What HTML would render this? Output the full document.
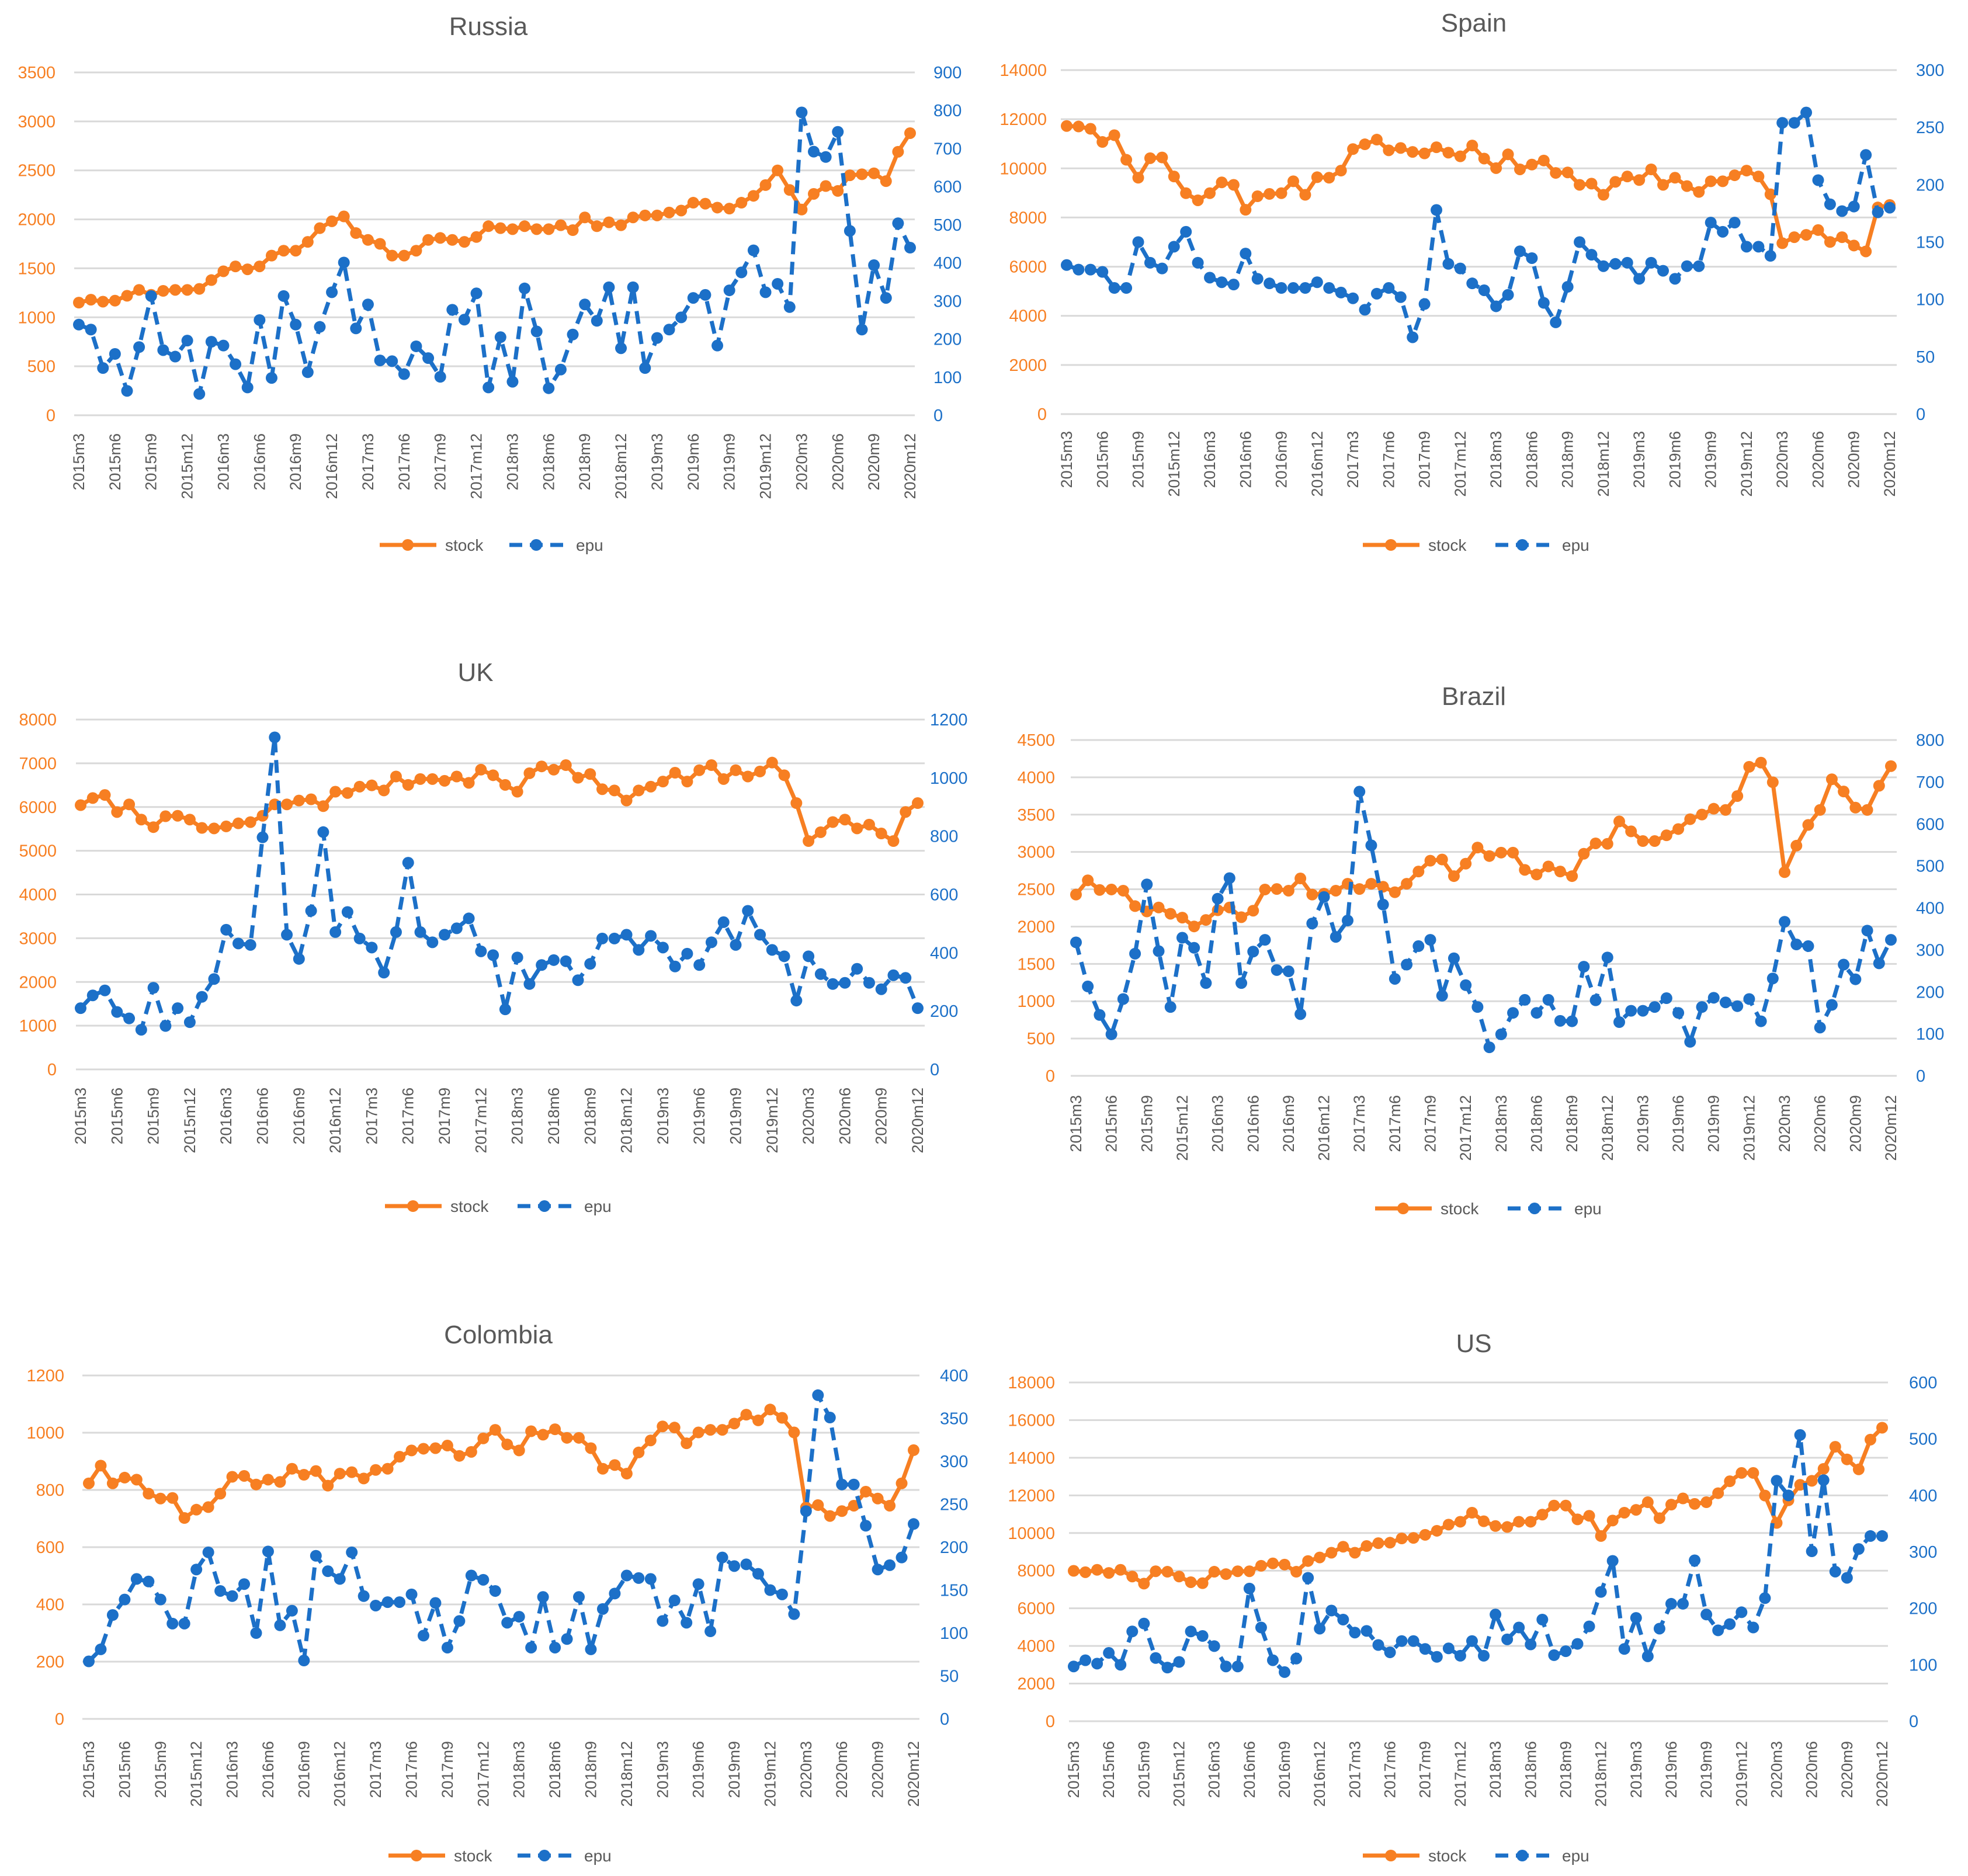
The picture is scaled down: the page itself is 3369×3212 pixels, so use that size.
<!DOCTYPE html>
<html><head><meta charset="utf-8"><title>Stock vs EPU</title>
<style>
html,body{margin:0;padding:0;background:#fff;}
svg{display:block;font-family:"Liberation Sans",Arial,sans-serif;}
</style></head>
<body>
<svg id="root" width="3369" height="3212" viewBox="0 0 3369 3212" xmlns="http://www.w3.org/2000/svg"></svg>
<script>
// ---- data ----
const years = [2015,2016,2017,2018,2019,2020];
const russiaStock = [1150,1180,1160,1170,1220,1280,1230,1270,1280,1280,1290,1380,1470,1520,1490,1520,1630,1680,1680,1770,1910,1980,2030,1860,1790,1750,1630,1630,1680,1790,1810,1790,1770,1820,1930,1910,1900,1930,1900,1900,1940,1890,2020,1930,1970,1940,2020,2040,2040,2070,2090,2170,2160,2120,2110,2170,2240,2350,2500,2300,2100,2260,2340,2290,2450,2460,2470,2390,2690,2880];
const russiaEpu = [238,225,124,161,64,179,313,171,154,196,56,193,183,134,73,250,98,313,238,113,232,323,401,228,291,144,142,108,181,150,101,277,251,320,73,205,88,333,220,71,120,212,291,248,336,176,336,124,203,225,257,308,316,183,328,375,433,323,345,284,795,692,678,744,484,225,394,308,504,440];
const spainStock = [11725,11705,11610,11075,11350,10350,9620,10415,10445,9670,8990,8700,8990,9430,9330,8315,8865,8960,8990,9475,8925,9640,9620,9910,10785,10980,11170,10735,10830,10670,10610,10860,10640,10490,10930,10400,10010,10570,9960,10155,10320,9815,9835,9330,9380,8925,9450,9670,9525,9960,9330,9620,9280,9040,9475,9475,9720,9910,9670,8945,6955,7200,7295,7490,7005,7200,6860,6620,8410,8510];
const spainEpu = [130,126,126,124,110,110,150,132,127,146,159,132,119,115,113,140,118,114,110,110,110,115,110,106,101,91,105,110,102,67,96,178,131,127,114,108,94,104,142,136,97,80,111,150,139,129,131,132,118,132,125,118,129,129,167,159,167,146,146,138,254,254,263,204,183,177,181,226,176,180];
const ukStock = [6043,6205,6275,5885,6060,5713,5540,5789,5800,5713,5522,5511,5557,5627,5655,5800,6060,6060,6148,6177,6020,6350,6321,6466,6495,6379,6698,6506,6640,6640,6599,6698,6553,6854,6727,6506,6350,6773,6929,6854,6958,6669,6755,6408,6379,6148,6379,6466,6582,6785,6582,6842,6958,6640,6842,6698,6813,7016,6727,6090,5222,5424,5656,5713,5511,5598,5395,5222,5887,6090];
const ukEpu = [210,254,271,197,175,136,280,149,210,162,249,310,479,432,427,796,1139,462,379,544,814,471,540,449,418,332,471,709,471,436,462,484,518,405,392,206,384,293,358,375,371,306,362,449,449,462,410,458,418,353,397,358,436,505,427,544,462,410,388,236,388,327,293,297,345,297,275,323,314,210];
const brazilStock = [2429,2620,2491,2497,2481,2274,2203,2256,2172,2120,2002,2089,2219,2256,2126,2213,2497,2503,2481,2645,2429,2441,2481,2574,2503,2574,2534,2460,2574,2738,2883,2899,2676,2843,3059,2945,2991,2991,2760,2698,2806,2738,2676,2976,3115,3109,3409,3276,3146,3146,3223,3307,3439,3501,3579,3563,3749,4141,4197,3934,2729,3084,3362,3563,3974,3810,3594,3563,3887,4150];
const brazilEpu = [318,213,145,99,183,291,456,297,164,329,305,221,422,471,221,296,324,252,249,147,363,426,331,370,677,549,408,231,265,309,324,191,280,216,164,68,99,150,181,150,181,131,130,260,180,282,128,155,155,164,185,150,81,164,186,175,166,183,130,232,367,313,309,115,169,265,230,346,268,324];
const colombiaStock = [823,885,823,843,836,787,770,772,702,731,740,787,846,849,819,836,828,874,853,866,815,857,862,840,870,874,916,938,944,946,955,919,933,980,1010,959,938,1005,993,1012,982,982,946,874,887,857,931,973,1022,1018,963,1001,1010,1010,1032,1063,1043,1081,1052,1001,739,747,709,726,745,794,770,745,823,939];
const colombiaEpu = [67,81,121,139,163,160,139,111,111,174,194,149,143,157,100,195,109,126,68,190,172,163,194,143,132,136,136,145,97,135,83,114,167,162,149,112,119,83,142,83,93,142,81,128,146,167,164,163,114,138,112,157,102,188,178,180,169,150,145,122,242,377,351,273,273,225,174,179,188,227];
const usStock = [7991,7918,8045,7880,8045,7690,7311,7969,7943,7690,7387,7336,7943,7817,7969,7969,8260,8386,8323,7943,8513,8702,8955,9272,8955,9310,9461,9487,9714,9740,9904,10119,10448,10600,11080,10625,10372,10321,10600,10600,10979,11460,11460,10726,10916,9841,10663,11080,11232,11637,10789,11510,11839,11548,11637,12117,12750,13193,13193,11991,10536,11738,12560,12775,13408,14584,13913,13382,14963,15596];
const usEpu = [97,108,102,121,100,159,173,112,95,105,159,151,133,97,97,235,166,108,87,111,254,164,196,180,157,160,135,122,142,142,128,114,129,116,142,116,189,145,166,136,180,117,124,137,168,229,284,128,183,115,164,208,208,285,189,161,172,193,166,218,426,400,507,301,427,265,254,305,328,328];
const months = [];
years.forEach(function(y){for(let m=1;m<=12;m++){if(y===2015&&m<3)continue;months.push(y+'m'+m);}});

// ---- layout (not data) ----
const charts = [
 {key:'russia',title:'Russia',stock:russiaStock,epu:russiaEpu,lMax:3500,lStep:500,rMax:900,rStep:100,gx0:127,gx1:1566,px0:135,px1:1558,gy0:124,gy1:711,lx:95,rx:1598,tx:836,ty:45,xl:742,ly:933,ls:650,le:872},
 {key:'spain',title:'Spain',stock:spainStock,epu:spainEpu,lMax:14000,lStep:2000,rMax:300,rStep:50,gx0:1816,gx1:3247,px0:1826,px1:3235,gy0:120,gy1:709,lx:1792,rx:3280,tx:2523,ty:39,xl:738,ly:933,ls:2333,le:2560},
 {key:'uk',title:'UK',stock:ukStock,epu:ukEpu,lMax:8000,lStep:1000,rMax:1200,rStep:200,gx0:130,gx1:1583,px0:138,px1:1571,gy0:1232,gy1:1831,lx:97,rx:1592,tx:814,ty:1151,xl:1862,ly:2065,ls:659,le:886},
 {key:'brazil',title:'Brazil',stock:brazilStock,epu:brazilEpu,lMax:4500,lStep:500,rMax:800,rStep:100,gx0:1833,gx1:3247,px0:1842,px1:3237,gy0:1267,gy1:1842,lx:1806,rx:3280,tx:2523,ty:1192,xl:1875,ly:2069,ls:2354,le:2581},
 {key:'colombia',title:'Colombia',stock:colombiaStock,epu:colombiaEpu,lMax:1200,lStep:200,rMax:400,rStep:50,gx0:141,gx1:1574,px0:152,px1:1564,gy0:2355,gy1:2943,lx:110,rx:1609,tx:853,ty:2285,xl:2981,ly:3177,ls:665,le:886},
 {key:'us',title:'US',stock:usStock,epu:usEpu,lMax:18000,lStep:2000,rMax:600,rStep:100,gx0:1830,gx1:3232,px0:1838,px1:3222,gy0:2367,gy1:2947,lx:1806,rx:3268,tx:2523,ty:2300,xl:2981,ly:3177,ls:2333,le:2560}
];
const ORANGE='#F77F22', BLUE='#1C70C8', GRID='#D9D9D9', GREY='#595959';
const NS='http://www.w3.org/2000/svg';
const root=document.getElementById('root');
function mk(tag,parent,attrs){const e=document.createElementNS(NS,tag);for(const k in attrs)e.setAttribute(k,attrs[k]);parent.appendChild(e);return e;}

charts.forEach(function(c){
  const g=mk('g',root,{});
  
  
  const n=months.length;
  const xs=function(i){return c.px0+(c.px1-c.px0)*i/(n-1);};
  const yl=function(v){return c.gy1-(c.gy1-c.gy0)*v/c.lMax;};
  const yr=function(v){return c.gy1-(c.gy1-c.gy0)*v/c.rMax;};
  const t=mk('text',g,{x:c.tx,y:c.ty+15,'text-anchor':'middle','font-size':44,fill:GREY});
  t.textContent=c.title;
  
  
  for(let v=0;v<=c.lMax+1e-9;v+=c.lStep){
    const y=yl(v);
    const gl=mk('line',g,{x1:c.gx0,x2:c.gx1,y1:y,y2:y,stroke:GRID,'stroke-width':3});
    
    
    const lt=mk('text',g,{x:c.lx,y:y+10,'text-anchor':'end','font-size':29,fill:ORANGE});
    lt.textContent=String(v);
    
    
  }
  for(let v=0;v<=c.rMax+1e-9;v+=c.rStep){
    const rt=mk('text',g,{x:c.rx,y:yr(v)+10,'text-anchor':'start','font-size':29,fill:BLUE});
    rt.textContent=String(v);
    
    
  }
  for(let i=0;i<n;i+=3){
    const x=xs(i)+9;
    const xt=mk('text',g,{x:x,y:c.xl,'text-anchor':'end','font-size':27,fill:GREY,transform:'rotate(-90 '+x+' '+c.xl+')'});
    xt.textContent=months[i];
    
    
  }
  // stock series
  let d='';c.stock.forEach(function(v,i){d+=(i?'L':'M')+xs(i).toFixed(1)+' '+yl(v).toFixed(1);});
  const sp=mk('path',g,{d:d,fill:'none',stroke:ORANGE,'stroke-width':7,'stroke-linejoin':'round'});
  
  
  c.stock.forEach(function(v,i){
    const m=mk('circle',g,{cx:xs(i),cy:yl(v),r:10,fill:ORANGE});
    
    
  });
  // epu series
  d='';c.epu.forEach(function(v,i){d+=(i?'L':'M')+xs(i).toFixed(1)+' '+yr(v).toFixed(1);});
  const ep=mk('path',g,{d:d,fill:'none',stroke:BLUE,'stroke-width':7,'stroke-dasharray':'22 13','stroke-linejoin':'round'});
  
  
  c.epu.forEach(function(v,i){
    const m=mk('circle',g,{cx:xs(i),cy:yr(v),r:10,fill:BLUE});
    
    
  });
  // legend
  const lg=mk('g',g,{});
  
  
  mk('line',lg,{x1:c.ls,x2:c.ls+97,y1:c.ly,y2:c.ly,stroke:ORANGE,'stroke-width':7});
  mk('circle',lg,{cx:c.ls+48,cy:c.ly,r:10,fill:ORANGE});
  const st=mk('text',lg,{x:c.ls+112,y:c.ly+10,'font-size':28,fill:GREY});
  st.textContent='stock';
  
  
  mk('line',lg,{x1:c.le,x2:c.le+92,y1:c.ly,y2:c.ly,stroke:BLUE,'stroke-width':7,'stroke-dasharray':'22 13'});
  mk('circle',lg,{cx:c.le+46,cy:c.ly,r:10,fill:BLUE});
  const et=mk('text',lg,{x:c.le+114,y:c.ly+10,'font-size':28,fill:GREY});
  et.textContent='epu';
  
  
});
</script>
</body></html>
